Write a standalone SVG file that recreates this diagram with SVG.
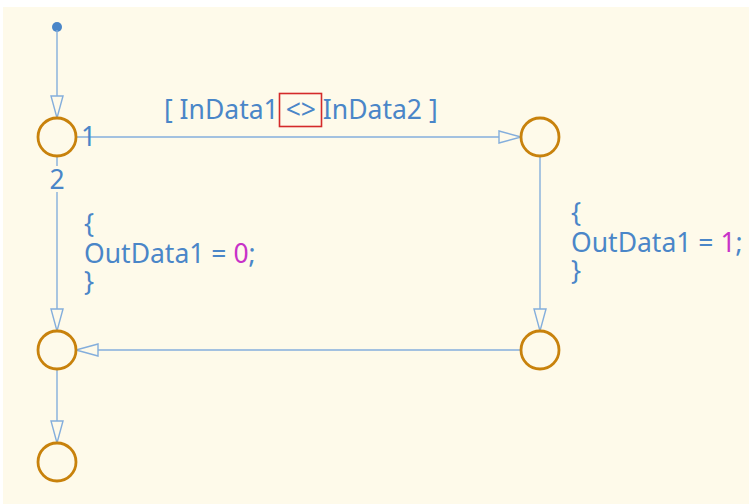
<svg xmlns="http://www.w3.org/2000/svg" width="749" height="504" viewBox="0 0 749 504">
<defs>
<style>
.bg{fill:#FEFAEA}
.st{fill:#FEFAEA;stroke:#C8820C;stroke-width:2.8}
.cn{fill:none;stroke:#84AEDC;stroke-width:1.4}
.tx{font-family:"Noto Sans",sans-serif;font-size:26.5px;fill:#4A86C8}
.num{fill:#C832C8}
</style>
<marker id="ah" markerUnits="userSpaceOnUse" markerWidth="24" markerHeight="14" refX="22" refY="6.5" orient="auto" viewBox="-1 -0.5 24 14">
<path d="M0,0.5 L22,6.5 L0,12.5 Z" fill="#FEFAEA" stroke="#84AEDC" stroke-width="1.4"/>
</marker>
</defs>
<rect x="0" y="0" width="749" height="504" fill="#FFFFFF"/>
<rect class="bg" x="3" y="7" width="746" height="497"/>
<g id="connectors">
<circle cx="57" cy="27" r="5" fill="#4A86C8"/>
<line class="cn" x1="57" y1="30" x2="57" y2="118" marker-end="url(#ah)"/>
<line class="cn" x1="76" y1="137" x2="521" y2="137" marker-end="url(#ah)"/>
<line class="cn" x1="57" y1="156" x2="57" y2="331" marker-end="url(#ah)"/>
<line class="cn" x1="540" y1="156" x2="540" y2="331" marker-end="url(#ah)"/>
<line class="cn" x1="521" y1="350" x2="76" y2="350" marker-end="url(#ah)"/>
<line class="cn" x1="57" y1="369" x2="57" y2="443" marker-end="url(#ah)"/>
<rect class="bg" x="48" y="166" width="18" height="26"/>
<text class="tx" x="81" y="146">1</text>
<text class="tx" x="57" y="189" text-anchor="middle">2</text>
<text class="tx" x="164" y="119">[ InData1 &lt;&gt; InData2 ]</text>
<rect x="279.5" y="93.5" width="42" height="33" fill="none" stroke="#D42A2A" stroke-width="1.6"/>
<text class="tx"><tspan x="84" y="233">{</tspan><tspan x="84" y="263">OutData1 = <tspan class="num">0</tspan>;</tspan><tspan x="84" y="291">}</tspan></text>
<text class="tx"><tspan x="571" y="222">{</tspan><tspan x="571" y="252">OutData1 = <tspan class="num">1</tspan>;</tspan><tspan x="571" y="280">}</tspan></text>
</g>
<g id="nodeA"><circle class="st" cx="57" cy="137" r="19"/></g>
<g id="nodeB"><circle class="st" cx="540" cy="137" r="19"/></g>
<g id="nodeC"><circle class="st" cx="57" cy="350" r="19"/></g>
<g id="nodeD"><circle class="st" cx="57" cy="462" r="19"/></g>
<g id="nodeE"><circle class="st" cx="540" cy="350" r="19"/></g>
</svg>
